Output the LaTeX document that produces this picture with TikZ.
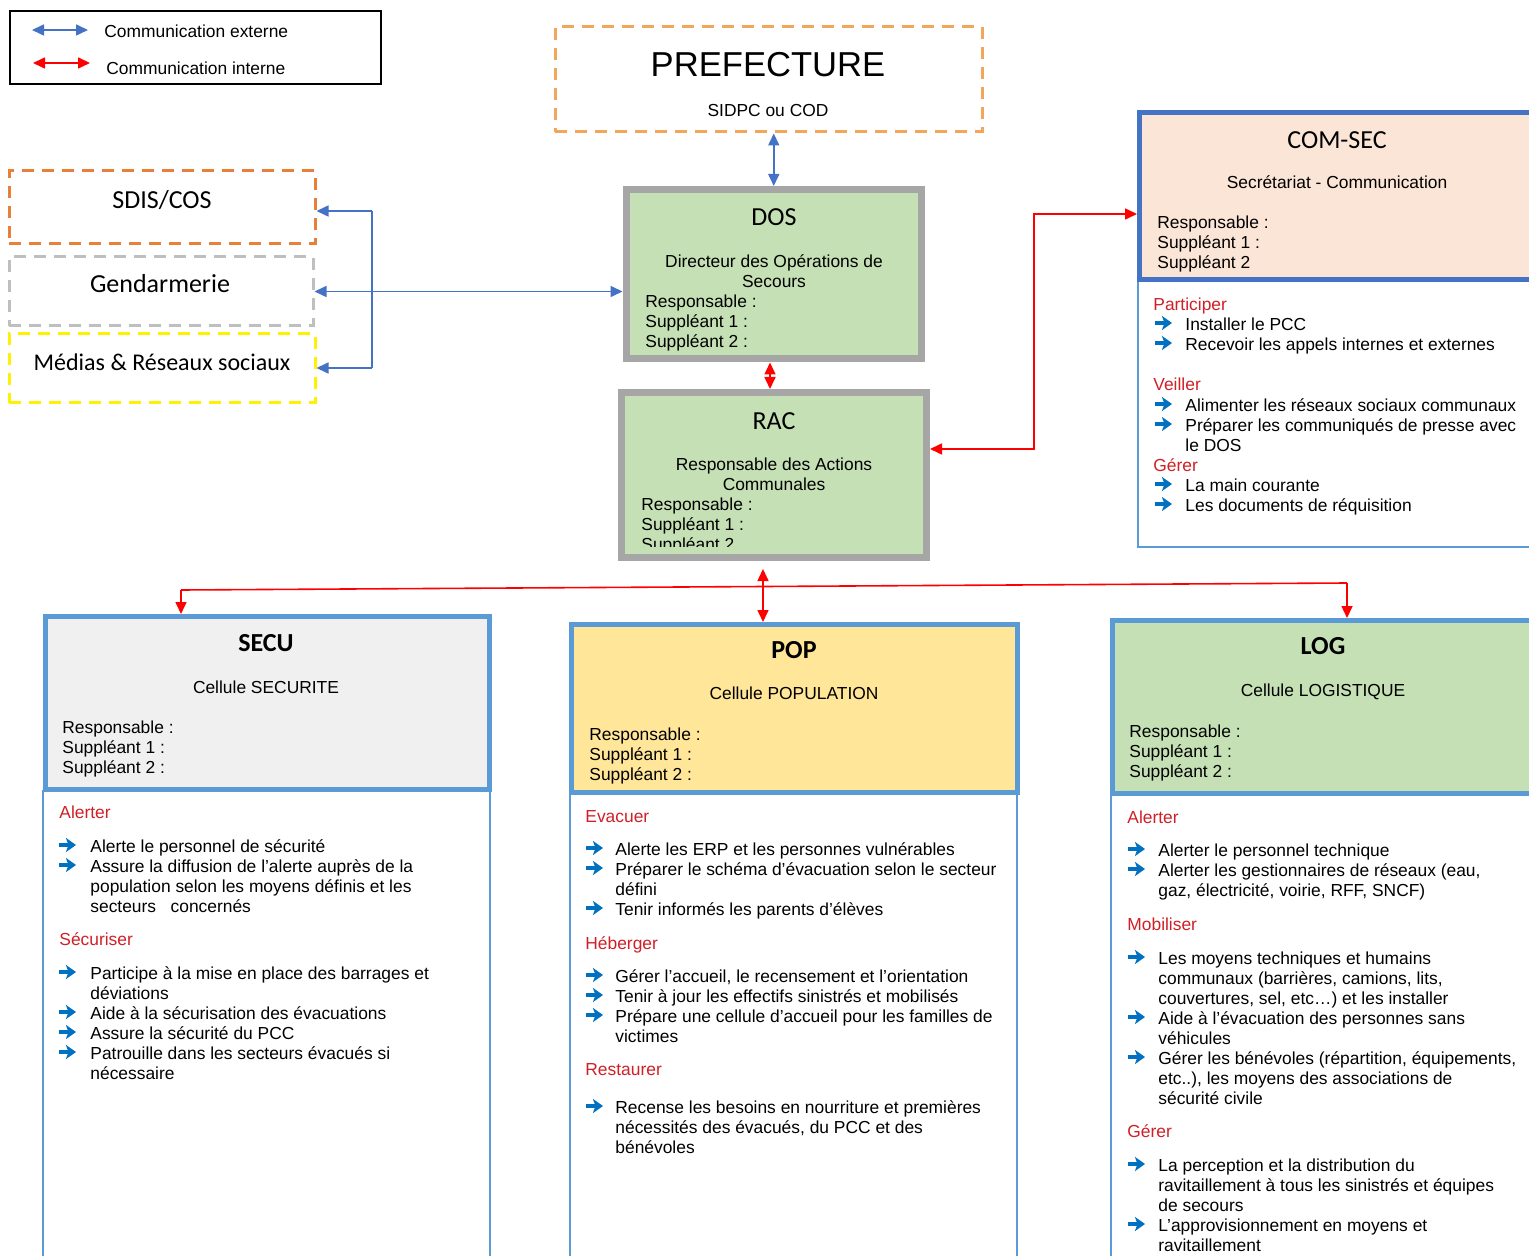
\documentclass[tikz,border=0pt]{standalone}
\usepackage{fontspec}
\setmainfont{Liberation Sans}
\newfontfamily\calib{Carlito}
\usetikzlibrary{arrows.meta,fit,calc}
\definecolor{extblue}{HTML}{4472C4}
\definecolor{intred}{HTML}{FF0000}
\definecolor{headred}{HTML}{D02027}
\definecolor{bulblue}{HTML}{0070C0}
\definecolor{cellblue}{HTML}{5B9BD5}
\definecolor{comblue}{HTML}{4472C4}
\definecolor{dosgray}{HTML}{A6A6A6}
\definecolor{dosgreen}{HTML}{C5E0B4}
\definecolor{peach}{HTML}{FBE5D6}
\definecolor{popyellow}{HTML}{FFE699}
\definecolor{secugray}{HTML}{F0F0F0}
\definecolor{prefor}{HTML}{F2A65A}
\definecolor{sdisor}{HTML}{E8803A}
\definecolor{gendgray}{HTML}{BFBFBF}
\definecolor{medyellow}{HTML}{FFF200}
\newcounter{tn}
\newcommand\tx[4][txt]{\stepcounter{tn}\node[#1] (t\arabic{tn}) at (#2,#3) {#4};}
\newcommand\bu[4]{\stepcounter{tn}\draw[bularr] (#1,#3) -- ++(17,0);\node[txt] (t\arabic{tn}) at (#2,#3) {#4};}
\begin{document}
\begin{tikzpicture}[x=0.5pt,y=-0.5pt,
  >={Triangle[length=6pt,width=5.5pt]},
  txt/.style={inner sep=0pt,anchor=mid west,yshift=-1pt,font=\fontsize{8.7}{10}\selectfont},
  ctxt/.style={txt,anchor=mid},
  hd/.style={txt,text=headred},
  ttl/.style={inner sep=0pt,anchor=mid,yshift=-1.5pt,font=\calib\fontsize{13}{15}\selectfont},
  bttl/.style={ttl,font=\calib\bfseries\fontsize{13}{15}\selectfont},
  bularr/.style={draw=bulblue,line width=2pt,-{Stealth[length=5pt,width=7pt,inset=1.2pt]}},
  box/.style={inner sep=0pt,rectangle},
  dashbox/.style={box,draw,line width=1.5pt,dash pattern=on 6pt off 4pt},
  grbox/.style={box,draw=dosgray,fill=dosgreen,line width=3.5pt},
  hdrbox/.style={box,draw=cellblue,line width=2.5pt},
  lowbox/.style={box,draw=cellblue,fill=white,line width=1pt},
  ext/.style={draw=extblue,line width=0.8pt},
  intr/.style={draw=intred,line width=0.8pt}]
\useasboundingbox (0,0) rectangle (1529,1256);
\fill[white] (0,0) rectangle (1529,1256);
\clip (0,0) rectangle (1529,1256);

% ---- boxes ----
\node[box,draw=black,line width=1pt,fit={(10,11) (381,84)}] (legend) {};
\node[dashbox,draw=prefor,fit={(555,27) (982,132)}] (pref) {};
\node[dashbox,draw=sdisor,fit={(9,171) (315,244)}] (sdis) {};
\node[dashbox,draw=gendgray,fit={(9,257) (313,326)}] (gend) {};
\node[dashbox,draw=medyellow,fit={(9,334) (315,403)}] (medias) {};
\node[grbox,fit={(626,189.5) (921.5,359)}] (dos) {};
\node[grbox,fit={(621.5,392.5) (926.5,557.5)}] (rac) {};
\node[lowbox,fit={(1138,281) (1545,547)}] (comlow) {};
\node[hdrbox,draw=comblue,fill=peach,fit={(1139.5,112.5) (1545,280)}] (comsec) {};
\node[lowbox,fit={(43,791) (490,1262)}] (seculow) {};
\node[hdrbox,fill=secugray,fit={(45.5,616.5) (489.5,789.5)}] (secu) {};
\node[lowbox,fit={(570,793) (1017,1262)}] (poplow) {};
\node[hdrbox,fill=popyellow,fit={(571.5,624.5) (1017.5,792.5)}] (pop) {};
\node[lowbox,fit={(1111,794) (1545,1262)}] (loglow) {};
\node[hdrbox,fill=dosgreen,fit={(1112.5,620.5) (1545,793.5)}] (log) {};

% ---- connectors ----
\coordinate (l1a) at (32,30); \coordinate (l1b) at (88,30);
\coordinate (l2a) at (33,63); \coordinate (l2b) at (90,63);
\draw[ext,<->] (l1a) -- (l1b);
\draw[intr,<->] (l2a) -- (l2b);
\draw[ext,<->] (pref.south -| dos.north) -- (dos.north);
\coordinate (v1) at (372,211); \coordinate (v2) at (372,368);
\draw[ext] (v1) -- (v2);
\draw[ext,->] (v1) -- (sdis.east |- v1);
\draw[ext,->] (v2) -- (medias.east |- v2);
\draw[ext,<->] (gend.east) -- (gend.east -| dos.west);
\coordinate (dr) at (770,0);
\draw[intr,<->] (dos.south -| dr) -- (rac.north -| dr);
\coordinate (k1) at (1034,214); \coordinate (k2) at (1034,449);
\draw[intr,<->] (comsec.west |- k1) -- (k1) -- (k2) -- (rac.east |- k2);
\coordinate (h1) at (181,590); \coordinate (h2) at (1347,583); \coordinate (hm) at (763,586);
\draw[intr] (h1) -- (h2);
\draw[intr,->] (h1) -- (h1 |- secu.north);
\draw[intr,->] (h2) -- (h2 |- log.north);
\draw[intr,<->] ([yshift=-4pt]rac.south -| hm) -- (pop.north -| hm);

% ---- legend text ----
\tx{104}{30}{Communication externe}
\tx{106}{67}{Communication interne}

% ---- external ----
\tx[ctxt,yshift=-3.5pt,font=\fontsize{17.3}{20}\selectfont]{768}{62}{PREFECTURE}
\tx[ctxt]{768}{109}{SIDPC ou COD}
\tx[ttl]{162}{200}{SDIS/COS}
\tx[ttl]{160}{284}{Gendarmerie}
\tx[ttl,font=\calib\fontsize{12}{14}\selectfont]{162}{362}{Médias \& Réseaux sociaux}

% ---- DOS ----
\tx[ttl]{774}{217}{DOS}
\tx[ctxt]{774}{260}{Directeur des Opérations de}
\tx[ctxt]{774}{280}{Secours}
\tx{645}{300}{Responsable :}
\tx{645}{320}{Suppléant 1 :}
\tx{645}{340}{Suppléant 2 :}

% ---- RAC ----
\begin{scope}
\clip (625,396) rectangle (923,546);
\tx[ttl]{774}{421}{RAC}
\tx[ctxt]{774}{463}{Responsable des Actions}
\tx[ctxt]{774}{483}{Communales}
\tx{641}{503}{Responsable :}
\tx{641}{523}{Suppléant 1 :}
\tx{641}{543}{Suppléant 2}
\end{scope}

% ---- COM-SEC ----
\tx[ttl,yshift=-1pt]{1337}{138}{COM-SEC}
\tx[ctxt]{1337}{181}{Secrétariat - Communication}
\tx{1157}{221}{Responsable :}
\tx{1157}{241}{Suppléant 1 :}
\tx{1157}{261}{Suppléant 2}
\tx[hd]{1153}{303}{Participer}
\bu{1155}{1185}{323}{Installer le PCC}
\bu{1155}{1185}{343}{Recevoir les appels internes et externes}
\tx[hd]{1153}{383}{Veiller}
\bu{1155}{1185}{404}{Alimenter les réseaux sociaux communaux}
\bu{1155}{1185}{424}{Préparer les communiqués de presse avec}
\tx{1185}{444}{le DOS}
\tx[hd]{1153}{464}{Gérer}
\bu{1155}{1185}{484}{La main courante}
\bu{1155}{1185}{504}{Les documents de réquisition}

% ---- SECU ----
\tx[bttl]{266}{643}{SECU}
\tx[ctxt]{266}{686}{Cellule SECURITE}
\tx{62}{726}{Responsable :}
\tx{62}{746}{Suppléant 1 :}
\tx{62}{766}{Suppléant 2 :}
\tx[hd]{59}{811}{Alerter}
\bu{59}{90}{845}{Alerte le personnel de sécurité}
\bu{59}{90}{865}{Assure la diffusion de l’alerte auprès de la}
\tx{90}{885}{population selon les moyens définis et les}
\tx{90}{905}{secteurs \ \ concernés}
\tx[hd]{59}{938}{Sécuriser}
\bu{59}{90}{972}{Participe à la mise en place des barrages et}
\tx{90}{992}{déviations}
\bu{59}{90}{1012}{Aide à la sécurisation des évacuations}
\bu{59}{90}{1032}{Assure la sécurité du PCC}
\bu{59}{90}{1052}{Patrouille dans les secteurs évacués si}
\tx{90}{1072}{nécessaire}

% ---- POP ----
\tx[bttl]{794}{650}{POP}
\tx[ctxt]{794}{692}{Cellule POPULATION}
\tx{589}{733}{Responsable :}
\tx{589}{753}{Suppléant 1 :}
\tx{589}{773}{Suppléant 2 :}
\tx[hd]{585}{815}{Evacuer}
\bu{586}{615}{848}{Alerte les ERP et les personnes vulnérables}
\bu{586}{615}{868}{Préparer le schéma d’évacuation selon le secteur}
\tx{615}{888}{défini}
\bu{586}{615}{908}{Tenir informés les parents d’élèves}
\tx[hd]{585}{942}{Héberger}
\bu{586}{615}{975}{Gérer l’accueil, le recensement et l’orientation}
\bu{586}{615}{995}{Tenir à jour les effectifs sinistrés et mobilisés}
\bu{586}{615}{1015}{Prépare une cellule d’accueil pour les familles de}
\tx{615}{1035}{victimes}
\tx[hd]{585}{1068}{Restaurer}
\bu{586}{615}{1106}{Recense les besoins en nourriture et premières}
\tx{615}{1126}{nécessités des évacués, du PCC et des}
\tx{615}{1146}{bénévoles}

% ---- LOG ----
\tx[bttl]{1323}{646}{LOG}
\tx[ctxt]{1323}{689}{Cellule LOGISTIQUE}
\tx{1129}{730}{Responsable :}
\tx{1129}{750}{Suppléant 1 :}
\tx{1129}{770}{Suppléant 2 :}
\tx[hd]{1127}{816}{Alerter}
\bu{1128}{1158}{849}{Alerter le personnel technique}
\bu{1128}{1158}{869}{Alerter les gestionnaires de réseaux (eau,}
\tx{1158}{889}{gaz, électricité, voirie, RFF, SNCF)}
\tx[hd]{1127}{923}{Mobiliser}
\bu{1128}{1158}{957}{Les moyens techniques et humains}
\tx{1158}{977}{communaux (barrières, camions, lits,}
\tx{1158}{997}{couvertures, sel, etc…) et les installer}
\bu{1128}{1158}{1017}{Aide à l’évacuation des personnes sans}
\tx{1158}{1037}{véhicules}
\bu{1128}{1158}{1057}{Gérer les bénévoles (répartition, équipements,}
\tx{1158}{1077}{etc..), les moyens des associations de}
\tx{1158}{1097}{sécurité civile}
\tx[hd]{1127}{1130}{Gérer}
\bu{1128}{1158}{1164}{La perception et la distribution du}
\tx{1158}{1184}{ravitaillement à tous les sinistrés et équipes}
\tx{1158}{1204}{de secours}
\bu{1128}{1158}{1224}{L’approvisionnement en moyens et}
\tx{1158}{1244}{ravitaillement}
\end{tikzpicture}
\end{document}
